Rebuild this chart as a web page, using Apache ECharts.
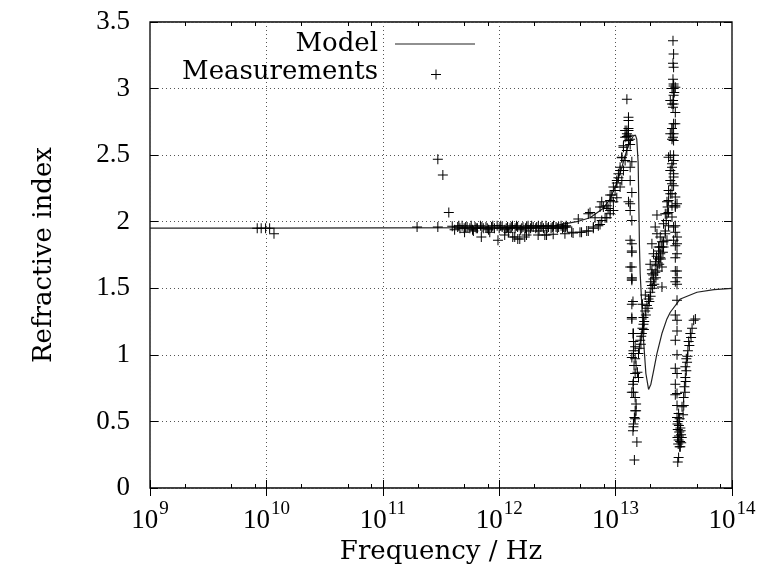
<!DOCTYPE html>
<html><head><meta charset="utf-8">
<script src="https://cdn.jsdelivr.net/npm/echarts@6/dist/echarts.min.js"></script>
<style>html,body{margin:0;padding:0;background:#fff}#c{width:759px;height:580px}</style>
</head><body><div id="c"></div>
<script>
const xMajorTicks = [1e9, 1e10, 1e11, 1e12, 1e13, 1e14];
const xTickExponents = ['9', '10', '11', '12', '13', '14'];
const xMinorTicks = [2e9, 5e9, 8e9, 2e10, 5e10, 8e10, 2e11, 5e11, 8e11, 2e12, 5e12, 8e12, 2e13, 5e13, 8e13];
const yTicks = [0, 0.5, 1, 1.5, 2, 2.5, 3, 3.5];

const modelFreq = [1e9, 1e10, 1e11, 1e12, 2e12, 3e12, 4.63e12, 6.03e12, 7.8e12, 8.97e12, 9.9e12, 1.09e13, 1.167e13, 1.25e13, 1.334e13, 1.422e13, 1.48e13, 1.52e13, 1.563e13, 1.585e13, 1.603e13, 1.626e13, 1.683e13, 1.738e13, 1.82e13, 1.92e13, 2.01e13, 2.12e13, 2.265e13, 2.5e13, 2.76e13, 2.95e13, 3.6e13, 5e13, 7e13, 1e14];
const modelN = [1.952, 1.952, 1.953, 1.956, 1.96, 1.97, 2.0, 2.03, 2.1, 2.17, 2.26, 2.36, 2.45, 2.54, 2.6, 2.645, 2.65, 2.62, 2.44, 2.1, 1.82, 1.61, 1.36, 1.11, 0.86, 0.74, 0.78, 0.88, 1.01, 1.16, 1.27, 1.32, 1.42, 1.47, 1.49, 1.50];

const measFreq = [
  8.34e9, 9.02e9, 9.84e9, 1.066e10, 1.162e10,
  1.97e11, 2.97e11, 2.97e11, 3.28e11, 3.69e11, 3.95e11, 4.14e11,
  4.4e11, 4.6e11, 4.8e11, 5.0e11, 5.04e11, 5.3e11, 5.6e11, 5.9e11, 6.2e11, 6.5e11,
  6.9e11, 7.02e11, 7.3e11, 7.7e11, 8.1e11, 8.6e11, 9.1e11, 9.6e11, 9.76e11, 1.0e12,
  1.06e12, 1.115e12, 1.12e12, 1.18e12, 1.24e12, 1.3e12, 1.307e12, 1.36e12, 1.37e12, 1.44e12,
  1.444e12, 1.502e12, 1.52e12, 1.6e12, 1.659e12, 1.68e12, 1.716e12, 1.77e12, 1.86e12, 1.96e12,
  2.06e12, 2.16e12, 2.17e12, 2.28e12, 2.4e12, 2.467e12, 2.52e12, 2.552e12, 2.65e12, 2.79e12,
  2.909e12, 2.93e12, 3.08e12, 3.24e12, 3.4e12, 3.58e12, 3.67e12, 3.76e12, 3.85e12, 4.5e11,
  5.15e11, 5.75e11, 6.35e11, 7.1e11, 7.9e11, 8.8e11, 1.03e12, 1.15e12, 1.27e12, 1.41e12,
  1.56e12, 1.72e12, 1.9e12, 2.1e12, 2.33e12, 2.58e12, 2.86e12, 3.16e12, 3.5e12, 3.7e12,
  1.8e12, 1.2e12, 6.0e11, 8.3e11, 2.2e12,
  4.194e12, 4.31e12, 4.943e12, 5.1e12, 5.646e12, 5.828e12, 6.437e12, 6.44e12, 7.108e12, 7.35e12,
  7.6e12, 8.12e12, 8.4e12, 8.62e12, 8.97e12, 8.97e12, 9.57e12, 9.57e12, 1.024e13, 1.093e13,
  1.131e13, 1.168e13, 1.207e13, 1.25e13, 1.29e13, 1.25e13, 1.29e13,
  4.779e12, 5.828e12, 6.028e12, 6.658e12, 7.35e12, 7.6e12, 7.85e12, 8.4e12, 8.97e12, 8.97e12,
  9.27e12, 9.57e12, 9.9e12, 1.024e13, 1.024e13, 1.057e13, 1.057e13, 1.093e13, 1.093e13, 1.131e13,
  1.131e13, 1.168e13, 1.168e13, 1.207e13, 1.207e13, 1.25e13, 1.25e13, 1.29e13, 1.29e13, 1.29e13,
  1.334e13, 1.29e13, 1.25e13, 1.334e13, 1.379e13, 1.334e13, 1.334e13, 1.379e13, 1.334e13, 1.334e13,
  1.379e13, 1.29e13, 1.334e13, 1.379e13, 1.379e13, 1.379e13, 1.334e13, 1.379e13, 1.379e13, 1.379e13,
  1.379e13, 1.41e13, 1.379e13, 1.379e13, 1.379e13, 1.41e13, 1.424e13, 1.424e13, 1.472e13, 1.424e13,
  1.424e13, 1.379e13, 1.472e13, 1.44e13, 1.5e13, 1.472e13, 1.54e13, 1.573e13, 1.424e13, 1.41e13,
  1.424e13, 1.379e13, 1.472e13, 1.5e13, 1.472e13, 1.5e13, 1.472e13, 1.45e13, 1.424e13, 1.424e13,
  1.41e13, 1.523e13, 1.45e13,
  1.573e13, 1.627e13, 1.682e13, 1.736e13, 1.736e13, 1.796e13, 1.858e13, 1.918e13, 1.983e13, 2.051e13,
  2.118e13, 2.19e13, 2.266e13, 2.339e13, 2.419e13, 2.502e13, 2.582e13, 1.6e13, 1.7e13, 1.76e13,
  1.82e13, 1.9e13, 1.95e13, 2.0e13, 2.08e13, 2.15e13, 2.22e13, 2.3e13, 2.37e13, 2.45e13,
  2.55e13, 2.0e13, 2.1e13, 2.05e13, 2.2e13, 2.25e13, 2.35e13, 2.4e13, 2.19e13, 2.266e13,
  2.266e13, 2.051e13, 2.118e13, 1.983e13, 2.051e13, 2.339e13, 2.419e13, 2.502e13, 2.502e13, 1.8e13,
  1.7e13, 1.65e13, 1.66e13, 1.75e13,
  2.671e13, 2.72e13, 2.763e13, 2.8e13, 2.851e13, 2.95e13, 3.051e13, 3.149e13, 2.95e13, 3.051e13,
  2.851e13, 3.149e13, 3.258e13, 3.37e13, 3.258e13, 3.37e13, 3.37e13, 3.37e13, 3.37e13, 3.37e13,
  2.95e13, 3.051e13, 3.258e13, 3.051e13, 3.149e13, 3.051e13, 2.95e13, 3.149e13, 3.051e13, 3.258e13,
  3.149e13, 3.258e13, 3.112e13, 3.149e13, 3.112e13, 3.149e13, 3.112e13, 3.149e13, 3.112e13, 3.19e13,
  3.112e13, 3.149e13, 3.112e13, 3.149e13, 3.051e13, 3.149e13, 3.112e13, 2.95e13, 3.149e13, 3.051e13,
  3.149e13, 2.95e13, 3.149e13, 2.851e13, 3.051e13, 3.258e13, 2.763e13, 3.051e13, 3.258e13, 2.851e13,
  2.671e13, 3.051e13, 2.582e13, 2.851e13, 3.149e13, 3.258e13, 2.671e13, 2.419e13, 2.763e13, 2.502e13,
  3.149e13, 3.258e13, 2.582e13,
  3.258e13, 3.258e13, 3.258e13, 3.37e13, 3.37e13, 3.258e13, 3.37e13, 3.37e13, 3.258e13, 3.37e13,
  3.258e13, 3.37e13, 3.258e13, 3.37e13, 3.258e13, 3.37e13, 3.478e13,
  3.37e13, 3.45e13, 3.5e13, 3.55e13, 3.6e13, 3.42e13, 3.52e13, 3.65e13, 3.4e13, 3.48e13,
  3.58e13, 3.7e13, 3.45e13, 3.55e13, 3.62e13, 3.5e13, 3.4e13, 3.66e13, 3.597e13, 3.478e13, 3.42e13,
  3.721e13, 3.841e13, 3.9e13, 3.973e13, 3.973e13, 4.11e13, 4.05e13, 4.18e13, 4.243e13, 4.387e13,
  4.538e13, 4.685e13, 4.845e13, 3.8e13, 3.85e13, 3.95e13, 4.0e13, 4.05e13, 4.15e13, 4.3e13, 4.45e13
];
const measN = [
  1.95, 1.95, 1.95, 1.95, 1.91,
  1.96, 1.96, 2.47, 2.35, 2.07, 1.965, 1.94,
  1.96, 1.95, 1.97, 1.95, 1.92, 1.96, 1.95, 1.94, 1.96, 1.95,
  1.97, 1.885, 1.95, 1.96, 1.94, 1.96, 1.95, 1.97, 1.86, 1.95,
  1.96, 1.90, 1.94, 1.96, 1.95, 1.97, 1.885, 1.885, 1.95, 1.96,
  1.87, 1.87, 1.94, 1.96, 1.885, 1.95, 1.90, 1.97, 1.95, 1.96,
  1.95, 1.90, 1.97, 1.96, 1.95, 1.90, 1.97, 1.90, 1.96, 1.95,
  1.905, 1.97, 1.96, 1.96, 1.97, 1.96, 1.91, 1.97, 1.96, 1.97,
  1.96, 1.97, 1.95, 1.96, 1.95, 1.97, 1.97, 1.95, 1.96, 1.97,
  1.95, 1.96, 1.97, 1.96, 1.97, 1.95, 1.96, 1.95, 1.95, 1.96,
  1.93, 1.92, 1.93, 1.92, 1.93,
  1.92, 1.915, 1.92, 1.92, 1.93, 1.93, 1.95, 1.96, 1.97, 1.98,
  2.01, 2.03, 2.03, 2.10, 2.085, 2.06, 2.15, 2.085, 2.18, 2.26,
  2.31, 2.385, 2.46, 2.535, 2.61, 2.66, 2.685,
  2.02, 2.06, 2.07, 2.03, 2.11, 2.15, 2.11, 2.12, 2.2, 2.16,
  2.2, 2.26, 2.235, 2.31, 2.29, 2.36, 2.33, 2.41, 2.385, 2.485,
  2.48, 2.56, 2.57, 2.635, 2.685, 2.685, 2.92, 2.785, 2.76, 2.65,
  2.62, 2.70, 2.64, 2.58, 2.45, 2.41, 2.31, 2.22, 2.135, 2.085,
  2.01, 2.15, 1.86, 1.835, 1.78, 1.77, 1.66, 1.66, 1.58, 1.57,
  1.56, 1.40, 1.38, 1.28, 1.27, 1.16, 1.16, 1.10, 1.06, 1.03,
  1.01, 0.98, 0.97, 0.92, 0.92, 0.86, 0.87, 0.83, 0.80, 0.78,
  0.72, 0.72, 0.68, 0.63, 0.58, 0.58, 0.52, 0.53, 0.48, 0.46,
  0.43, 0.345, 0.21,
  1.01, 1.11, 1.16, 1.23, 1.28, 1.33, 1.37, 1.42, 1.47, 1.52,
  1.57, 1.62, 1.67, 1.72, 1.76, 1.81, 1.85, 1.05, 1.2, 1.25,
  1.3, 1.35, 1.40, 1.44, 1.5, 1.53, 1.58, 1.63, 1.68, 1.72,
  1.77, 1.55, 1.6, 1.64, 1.7, 1.74, 1.78, 1.81, 1.96, 2.05,
  1.91, 1.835, 1.76, 1.68, 1.61, 1.81, 1.73, 1.66, 1.51, 1.45,
  1.38, 1.08, 1.14, 1.19,
  1.93, 2.01, 2.06, 2.11, 2.16, 2.21, 2.285, 2.335, 2.385, 2.435,
  2.485, 2.5, 2.11, 2.135, 1.97, 1.885, 1.835, 1.76, 1.63, 1.58,
  2.66, 2.70, 2.735, 2.62, 2.61, 2.885, 2.91, 2.95, 3.0, 3.01,
  3.035, 2.82, 3.36, 3.26, 3.19, 3.16, 3.07, 3.02, 3.0, 2.97,
  2.91, 2.885, 2.86, 2.735, 2.70, 2.66, 2.635, 2.5, 2.46, 2.41,
  2.36, 2.31, 2.27, 2.235, 2.21, 2.185, 2.15, 2.12, 2.12, 2.07,
  2.06, 2.035, 1.985, 1.97, 1.96, 1.92, 1.91, 1.885, 1.86, 1.85,
  1.86, 1.82, 1.81,
  1.73, 1.63, 1.55, 1.53, 1.41, 1.30, 1.26, 1.18, 1.11, 1.0,
  0.90, 0.86, 0.78, 0.71, 0.70, 0.62, 0.56,
  0.53, 0.50, 0.47, 0.52, 0.45, 0.44, 0.42, 0.40, 0.38, 0.36,
  0.35, 0.38, 0.33, 0.31, 0.43, 0.39, 0.48, 0.34, 0.31, 0.23, 0.195,
  0.61, 0.68, 0.76, 0.83, 0.91, 0.945, 0.97, 1.03, 1.10, 1.16,
  1.20, 1.26, 1.27, 0.55, 0.62, 0.72, 0.8, 0.88, 0.99, 1.07, 1.13
];

const NUMFONT = 'Liberation Serif';
const TXTFONT = 'DejaVu Serif';
const chart = echarts.init(document.getElementById('c'), null, {renderer: 'canvas'});
const plus = 'path://M4.5,0h1v4.5h4.5v1h-4.5v4.5h-1v-4.5h-4.5v-1h4.5z';
const expOf = v => xTickExponents[xMajorTicks.findIndex(t => Math.abs(Math.log10(t) - Math.log10(v)) < 1e-6)];

const baseX = {
  type: 'log', logBase: 10, min: 1e9, max: 1e14, gridIndex: 0,
  axisLine: {show: false}
};
chart.setOption({
  animation: false,
  backgroundColor: '#fff',
  grid: {left: 150, right: 27, top: 22, bottom: 92, show: true, borderColor: '#000', borderWidth: 1.3, backgroundColor: 'transparent'},
  xAxis: [
    Object.assign({}, baseX, {
      position: 'bottom',
      axisTick: {show: true, inside: true, length: 8, customValues: xMajorTicks, lineStyle: {color: '#000', width: 1}},
      axisLabel: {
        show: true, margin: 12, customValues: xMajorTicks,
        formatter: v => '{b|10}{s|' + expOf(v) + '}',
        rich: {
          b: {fontFamily: NUMFONT, fontSize: 27, color: '#000', lineHeight: 34, verticalAlign: 'bottom'},
          s: {fontFamily: NUMFONT, fontSize: 19, color: '#000', lineHeight: 34, verticalAlign: 'top', padding: [0, 0, 0, 1]}
        }
      },
      splitLine: {show: true, lineStyle: {color: '#555', type: [1, 3], width: 1}},
      name: 'Frequency / Hz', nameLocation: 'middle', nameGap: 51,
      nameTextStyle: {fontFamily: TXTFONT, fontSize: 26, color: '#000'}
    }),
    Object.assign({}, baseX, {
      position: 'top',
      axisTick: {show: true, inside: true, length: 8, customValues: xMajorTicks, lineStyle: {color: '#000'}},
      axisLabel: {show: false}, splitLine: {show: false}
    }),
    Object.assign({}, baseX, {
      position: 'bottom',
      axisTick: {show: true, inside: true, length: 4, customValues: xMinorTicks, lineStyle: {color: '#000'}},
      axisLabel: {show: false}, splitLine: {show: false}
    }),
    Object.assign({}, baseX, {
      position: 'top',
      axisTick: {show: true, inside: true, length: 4, customValues: xMinorTicks, lineStyle: {color: '#000'}},
      axisLabel: {show: false}, splitLine: {show: false}
    })
  ],
  yAxis: [
    {
      type: 'value', min: 0, max: 3.5, interval: 0.5, position: 'left',
      axisLine: {show: false},
      axisTick: {show: true, inside: true, length: 8, lineStyle: {color: '#000'}},
      axisLabel: {fontFamily: NUMFONT, fontSize: 27, color: '#000', margin: 20},
      splitLine: {show: true, lineStyle: {color: '#555', type: [1, 3], width: 1}},
      name: 'Refractive index', nameLocation: 'middle', nameGap: 93, nameRotate: 90,
      nameTextStyle: {fontFamily: TXTFONT, fontSize: 26, color: '#000'}
    },
    {
      type: 'value', min: 0, max: 3.5, interval: 0.5, position: 'right',
      axisLine: {show: false},
      axisTick: {show: true, inside: true, length: 8, lineStyle: {color: '#000'}},
      axisLabel: {show: false}, splitLine: {show: false}
    }
  ],
  series: [
    {
      name: 'Model', type: 'line', xAxisIndex: 0, yAxisIndex: 0,
      data: modelFreq.map((f, i) => [f, modelN[i]]),
      showSymbol: false, smooth: false, z: 2,
      lineStyle: {color: '#222', width: 1.2}
    },
    {
      name: 'Measurements', type: 'scatter', xAxisIndex: 0, yAxisIndex: 0,
      data: measFreq.map((f, i) => [f, measN[i]]),
      symbol: plus, symbolSize: 10, z: 3,
      itemStyle: {color: '#000', opacity: 1}
    }
  ],
  graphic: [
    {type: 'text', x: 378, y: 44, style: {text: 'Model', font: '26px "' + TXTFONT + '"', fill: '#000', textAlign: 'right', textVerticalAlign: 'middle'}},
    {type: 'text', x: 378, y: 72, style: {text: 'Measurements', font: '26px "' + TXTFONT + '"', fill: '#000', textAlign: 'right', textVerticalAlign: 'middle'}},
    {type: 'line', shape: {x1: 395, y1: 44, x2: 475, y2: 44}, style: {stroke: '#222', lineWidth: 1.2}},
    {type: 'line', shape: {x1: 431, y1: 74.5, x2: 441, y2: 74.5}, style: {stroke: '#000', lineWidth: 1}},
    {type: 'line', shape: {x1: 436, y1: 69.5, x2: 436, y2: 79.5}, style: {stroke: '#000', lineWidth: 1}}
  ]
});
</script></body></html>
